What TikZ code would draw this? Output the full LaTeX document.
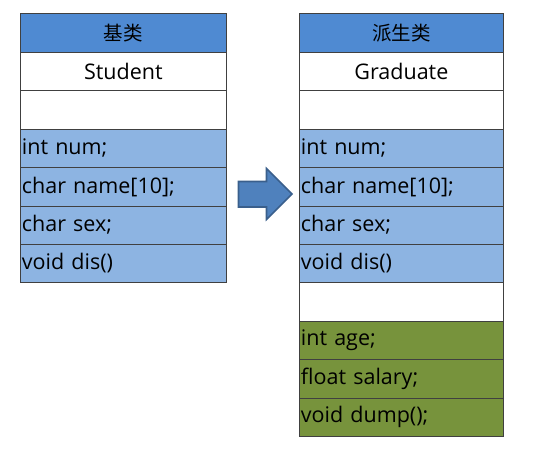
\documentclass[tikz,border=0pt]{standalone}
\usepackage{fontspec}
\setmainfont{Open Sans}
\newfontfamily\cjk{Noto Sans CJK SC}
\definecolor{hdr}{HTML}{4F8AD2}
\definecolor{lblue}{HTML}{8DB4E2}
\definecolor{lgreen}{HTML}{77933C}
\definecolor{arrowfill}{HTML}{4F81BD}
\definecolor{arrowline}{HTML}{3A5F8C}
\definecolor{rowline}{HTML}{404040}
\begin{document}
\begin{tikzpicture}[x=1pt,y=-1pt,
  cell/.style={draw=rowline, line width=0.8pt, anchor=north west, minimum height=38.4pt, inner sep=0pt, font=\fontsize{21.5}{24}\selectfont},
  lcell/.style={cell, minimum width=206pt, text width=203pt, align=left},
  rcell/.style={cell, minimum width=204pt, text width=201pt, align=left},
  ltitle/.style={cell, minimum width=206pt, align=center},
  rtitle/.style={cell, minimum width=204pt, align=center},
  ctitle/.style={font=\cjk\fontsize{19.5}{22}\selectfont}]
\useasboundingbox (0,0) rectangle (560,452);
% left table
\node[ltitle, ctitle, fill=hdr] (lh) at (20,13.5) {基类};
\node[ltitle, fill=white] (ln) at (20,51.9) {Student};
\node[ltitle, fill=white] (lb) at (20,90.3) {};
\node[lcell, fill=lblue] (l1) at (20,128.7) {int num;};
\node[lcell, fill=lblue] (l2) at (20,167.1) {char name[10];};
\node[lcell, fill=lblue] (l3) at (20,205.5) {char sex;};
\node[lcell, fill=lblue] (l4) at (20,243.9) {void dis()};
% right table
\node[rtitle, ctitle, fill=hdr] (rh) at (299,13.5) {派生类};
\node[rtitle, fill=white] (rn) at (299,51.9) {Graduate};
\node[rtitle, fill=white] (rb) at (299,90.3) {};
\node[rcell, fill=lblue] (r1) at (299,128.7) {int num;};
\node[rcell, fill=lblue] (r2) at (299,167.1) {char name[10];};
\node[rcell, fill=lblue] (r3) at (299,205.5) {char sex;};
\node[rcell, fill=lblue] (r4) at (299,243.9) {void dis()};
\node[rtitle, fill=white] (rb2) at (299,282.3) {};
\node[rcell, fill=lgreen] (r5) at (299,320.7) {int age;};
\node[rcell, fill=lgreen] (r6) at (299,359.1) {float salary;};
\node[rcell, fill=lgreen] (r7) at (299,397.5) {void dump();};
% arrow
\draw[fill=arrowfill, draw=arrowline, line width=1.6pt, line join=miter]
  (238.5,181.5) -- (266.5,181.5) -- (266.5,168.5) -- (292,194) -- (266.5,219.5) -- (266.5,207) -- (238.5,207) -- cycle;
\end{tikzpicture}
\end{document}
